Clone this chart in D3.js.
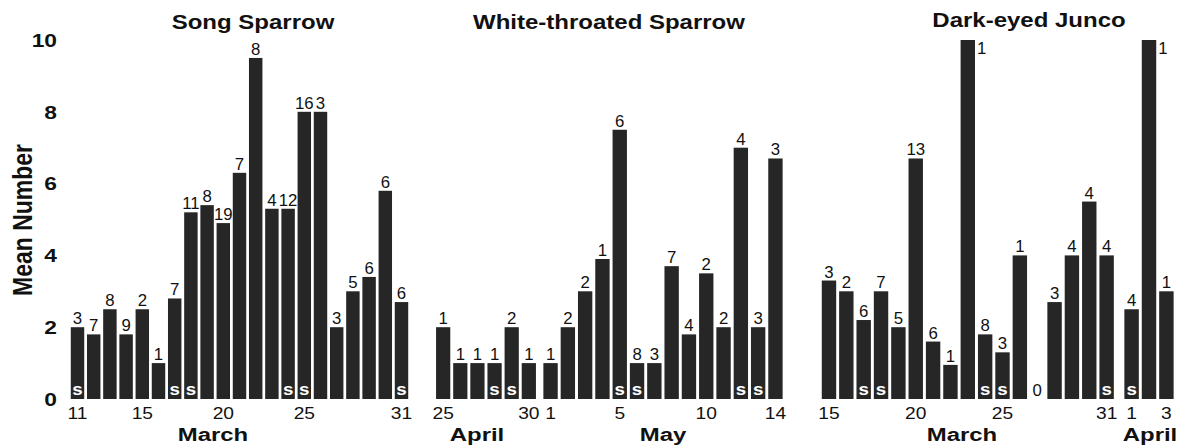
<!DOCTYPE html>
<html>
<head>
<meta charset="utf-8">
<script src="https://cdn.jsdelivr.net/npm/d3@7"></script>
<style>
  body { margin: 0; background: #fff; }
  text { font-family: "Liberation Sans", Arial, sans-serif; fill: #111; }
</style>
</head>
<body>
<script>
var width = 1182;
var height = 446;

// Song Sparrow, March
var songDays = [11, 12, 13, 14, 15, 16, 17, 18, 19, 20, 21, 22, 23, 24, 25, 26, 27, 28, 29, 30, 31];
var songMeans = [2.0, 1.8, 2.5, 1.8, 2.5, 1.0, 2.8, 5.2, 5.4, 4.9, 6.3, 9.5, 5.3, 5.3, 8.0, 8.0, 2.0, 3.0, 3.4, 5.8, 2.7];
var songCounts = [3, 7, 8, 9, 2, 1, 7, 11, 8, 19, 7, 8, 4, 12, 16, 3, 3, 5, 6, 6, 6];
var songS = [11, 17, 18, 24, 25, 31];
var songTicks = [11, 15, 20, 25, 31];

// White-throated Sparrow, April and May
var wtAprDays = [25, 26, 27, 28, 29, 30];
var wtAprMeans = [2.0, 1.0, 1.0, 1.0, 2.0, 1.0];
var wtAprCounts = [1, 1, 1, 1, 2, 1];
var wtAprS = [28, 29];
var wtAprTicks = [25, 30];

var wtMayDays = [1, 2, 3, 4, 5, 6, 7, 8, 9, 10, 11, 12, 13, 14];
var wtMayMeans = [1.0, 2.0, 3.0, 3.9, 7.5, 1.0, 1.0, 3.7, 1.8, 3.5, 2.0, 7.0, 2.0, 6.7];
var wtMayCounts = [1, 2, 2, 1, 6, 8, 3, 7, 4, 2, 2, 4, 3, 3];
var wtMayS = [5, 6, 12, 13];
var wtMayTicks = [1, 5, 10, 14];

// Dark-eyed Junco, March and April
var djMarDays = [15, 16, 17, 18, 19, 20, 21, 22, 23, 24, 25, 26, 27, 28, 29, 30, 31];
var djMarMeans = [3.3, 3.0, 2.2, 3.0, 2.0, 6.7, 1.6, 0.95, 10, 1.8, 1.3, 4.0, 0, 2.7, 4.0, 5.5, 4.0];
var djMarCounts = [3, 2, 6, 7, 5, 13, 6, 1, 1, 8, 3, 1, 0, 3, 4, 4, 4];
var djMarS = [17, 18, 24, 25, 31];
var djMarTicks = [15, 20, 25, 31];

var djAprDays = [1, 2, 3];
var djAprMeans = [2.5, 10, 3.0];
var djAprCounts = [4, 1, 1];
var djAprS = [1];
var djAprTicks = [1, 3];

var yTicks = [0, 2, 4, 6, 8, 10];

// layout
var panels = [
  { title: "Song Sparrow", titleX: 253, titleY: 29, segments: [
    { month: "March", monthX: 213, days: songDays, means: songMeans, counts: songCounts, s: songS, ticks: songTicks, range: [69.4, 409.6] }
  ]},
  { title: "White-throated Sparrow", titleX: 609, titleY: 29, segments: [
    { month: "April", monthX: 477, days: wtAprDays, means: wtAprMeans, counts: wtAprCounts, s: wtAprS, ticks: wtAprTicks, range: [434.6, 537.4] },
    { month: "May", monthX: 663, days: wtMayDays, means: wtMayMeans, counts: wtMayCounts, s: wtMayS, ticks: wtMayTicks, range: [541.9, 784.1] }
  ]},
  { title: "Dark-eyed Junco", titleX: 1029, titleY: 27, segments: [
    { month: "March", monthX: 962, days: djMarDays, means: djMarMeans, counts: djMarCounts, s: djMarS, ticks: djMarTicks, range: [820.3, 1115.3] },
    { month: "April", monthX: 1150, days: djAprDays, means: djAprMeans, counts: djAprCounts, s: djAprS, ticks: djAprTicks, range: [1122.9, 1175.1] }
  ]}
];

var barColor = "#262626";
var stretch = 1.2;

var svg = d3.select("body").append("svg")
  .attr("width", width).attr("height", height)
  .style("background-color", "#fff");

var y = d3.scaleLinear().domain([0, 10]).range([399, 40]);

// y axis labels
svg.selectAll("text.ytick").data(yTicks).enter().append("text")
  .attr("class", "ytick")
  .attr("transform", function (d) { return "translate(57," + y(d) + ") scale(" + stretch + ",1)"; })
  .attr("text-anchor", "end")
  .attr("dominant-baseline", "central")
  .style("font-size", "19px")
  .style("font-weight", "bold")
  .text(function (d) { return d; });

svg.append("text")
  .attr("transform", "translate(22,220) rotate(-90) scale(1," + stretch + ")")
  .attr("text-anchor", "middle")
  .attr("dominant-baseline", "central")
  .style("font-size", "23px")
  .style("font-weight", "bold")
  .text("Mean Number");

panels.forEach(function (p) {
  svg.append("text")
    .attr("transform", "translate(" + p.titleX + "," + p.titleY + ") scale(" + stretch + ",1)")
    .attr("text-anchor", "middle")
    .style("font-size", "20px")
    .style("font-weight", "bold")
    .text(p.title);

  p.segments.forEach(function (seg) {
    var rows = seg.days.map(function (d, i) {
      return { day: d, mean: seg.means[i], n: seg.counts[i], s: seg.s.indexOf(d) >= 0 };
    });

    var x = d3.scaleBand().domain(seg.days).range(seg.range)
      .paddingInner(0.17).paddingOuter(0.085);

    var g = svg.append("g");

    g.selectAll("rect").data(rows).enter().append("rect")
      .attr("x", function (d) { return x(d.day); })
      .attr("y", function (d) { return y(d.mean); })
      .attr("width", x.bandwidth())
      .attr("height", function (d) { return y(0) - y(d.mean); })
      .style("fill", barColor);

    // sample sizes above bars (beside the bar when it reaches the top)
    g.selectAll("text.n").data(rows).enter().append("text")
      .attr("class", "n")
      .attr("transform", function (d) {
        var tx = d.mean >= 10 ? x(d.day) + x.bandwidth() + 2 : x(d.day) + x.bandwidth() / 2;
        var ty = d.mean >= 10 ? y(d.mean) + 14 : y(d.mean) - 3;
        return "translate(" + tx + "," + ty + ") scale(1.05,1)";
      })
      .attr("text-anchor", function (d) { return d.mean >= 10 ? "start" : "middle"; })
      .style("font-size", "16px")
      .text(function (d) { return d.n; });

    g.selectAll("text.s").data(rows.filter(function (d) { return d.s; })).enter().append("text")
      .attr("class", "s")
      .attr("transform", function (d) {
        return "translate(" + (x(d.day) + x.bandwidth() / 2) + ",395) scale(1.1,1)";
      })
      .attr("text-anchor", "middle")
      .style("font-size", "17px")
      .style("font-weight", "bold")
      .style("fill", "#fff")
      .text("s");

    g.selectAll("text.xtick").data(seg.ticks).enter().append("text")
      .attr("class", "xtick")
      .attr("transform", function (d) {
        return "translate(" + (x(d) + x.bandwidth() / 2) + ",419) scale(" + stretch + ",1)";
      })
      .attr("text-anchor", "middle")
      .style("font-size", "16px")
      .text(function (d) { return d; });

    g.append("text")
      .attr("transform", "translate(" + seg.monthX + ",441) scale(1.26,1)")
      .attr("text-anchor", "middle")
      .style("font-size", "19px")
      .style("font-weight", "bold")
      .text(seg.month);
  });
});
</script>
</body>
</html>
